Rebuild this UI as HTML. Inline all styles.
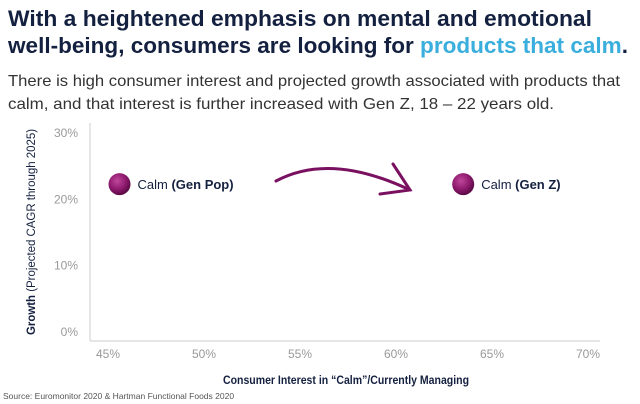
<!DOCTYPE html>
<html><head><meta charset="utf-8"><style>
body{margin:0;background:#fff;}
svg{display:block;font-family:"Liberation Sans",sans-serif;}
</style></head><body>
<svg width="640" height="404" viewBox="0 0 640 404">
<defs>
<radialGradient id="dot" cx="40%" cy="35%" r="65%">
<stop offset="0" stop-color="#c0479a"/><stop offset="0.6" stop-color="#8e1a6e"/><stop offset="1" stop-color="#5a0a44"/>
</radialGradient>
</defs>
<text x="8" y="26" font-size="22" font-weight="bold" fill="#14203f" textLength="584" lengthAdjust="spacingAndGlyphs">With a heightened emphasis on mental and emotional</text>
<text x="8" y="53" font-size="22" font-weight="bold" fill="#14203f" textLength="620" lengthAdjust="spacingAndGlyphs">well-being, consumers are looking for <tspan fill="#3aaedc">products that calm</tspan>.</text>
<text x="8" y="86" font-size="16" fill="#333" textLength="612" lengthAdjust="spacingAndGlyphs">There is high consumer interest and projected growth associated with products that</text>
<text x="8" y="109" font-size="16" fill="#333" textLength="546" lengthAdjust="spacingAndGlyphs">calm, and that interest is further increased with Gen Z, 18 – 22 years old.</text>
<g id="plot"></g>
<text x="346" y="384" font-size="12" font-weight="bold" fill="#14203f" text-anchor="middle" textLength="246" lengthAdjust="spacingAndGlyphs">Consumer Interest in “Calm”/Currently Managing</text>
<text transform="translate(35,232) rotate(-90)" font-size="11.5" fill="#14203f" text-anchor="middle" textLength="206" lengthAdjust="spacingAndGlyphs"><tspan font-weight="bold">Growth</tspan> (Projected CAGR through 2025)</text>
<text x="3" y="399" font-size="8.5" fill="#555">Source: Euromonitor 2020 &amp; Hartman Functional Foods 2020</text>
<g stroke="#7a1060" stroke-width="3" fill="none" stroke-linecap="round">
<path d="M276,181 Q330,152 410,190"/>
<path d="M393,164 L410,190 L380,194"/>
</g>
</svg>
<script>
const xTicks=[45,50,55,60,65,70];
const yTicks=[0,10,20,30];
const pointLabels=["Gen Pop","Gen Z"];
const pointX=[45.6,63.5];
const pointY=[22.3,22.3];
const NS="http://www.w3.org/2000/svg";
const g=document.getElementById('plot');
const xs=v=>108+(v-45)*19.2;
const ys=v=>332-v*6.63;
function mk(t,a){const e=document.createElementNS(NS,t);for(const k in a)e.setAttribute(k,a[k]);g.appendChild(e);return e;}
let l=mk('line',{x1:90,y1:123,x2:90,y2:341,stroke:'#ccc','stroke-width':1});


l=mk('line',{x1:90,y1:341,x2:600,y2:341,stroke:'#ccc','stroke-width':1});


xTicks.forEach(v=>{const t=mk('text',{x:xs(v),y:358,'font-size':12,fill:'#999','text-anchor':'middle'});t.textContent=v+'%';

});
yTicks.forEach(v=>{const t=mk('text',{x:78,y:ys(v)+4,'font-size':12,fill:'#999','text-anchor':'end'});t.textContent=v+'%';

});
pointX.forEach((v,i)=>{const cx=xs(v),cy=ys(pointY[i]);
const c=mk('circle',{cx:cx,cy:cy,r:11,fill:'url(#dot)'});


const t=mk('text',{x:cx+18,y:cy+5,'font-size':13,fill:'#14203f'});
t.innerHTML='Calm <tspan font-weight="bold">('+pointLabels[i]+')</tspan>';

});
</script>
</body></html>
